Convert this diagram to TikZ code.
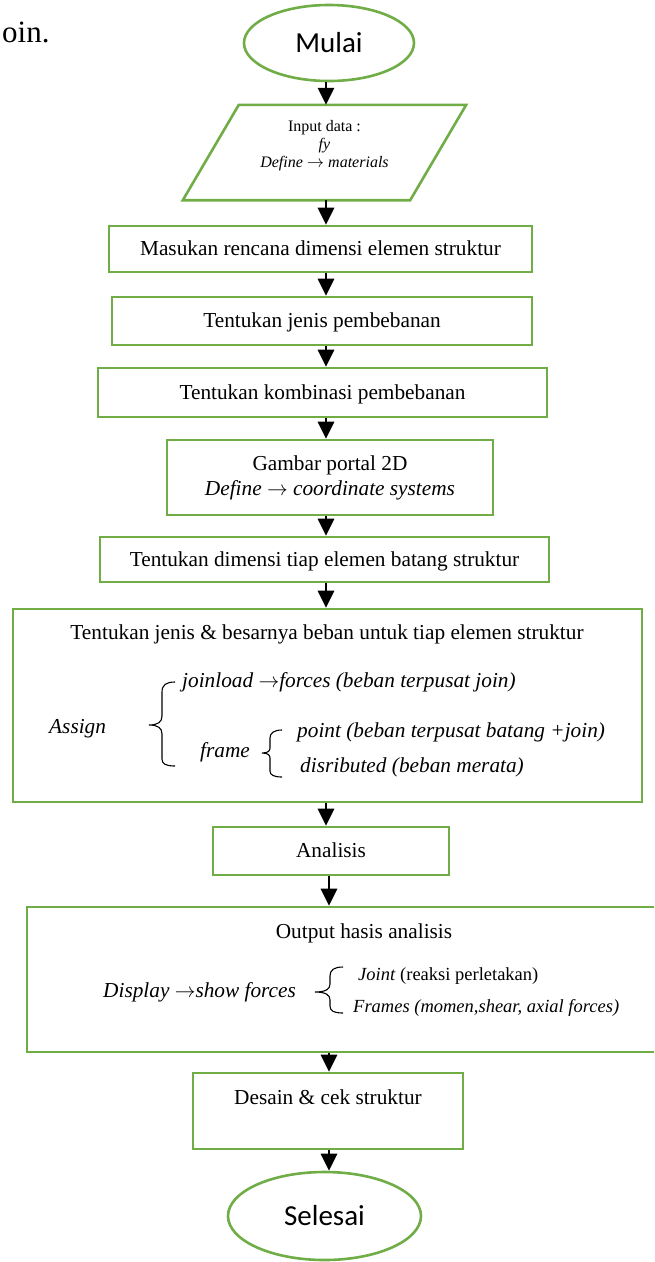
\documentclass[tikz,border=0pt]{standalone}
\usepackage{fontspec}
\setmainfont{Liberation Serif}
\newfontfamily\calibrifont{Carlito}
\usetikzlibrary{arrows.meta,shapes.geometric}
\definecolor{boxgreen}{RGB}{112,173,71}
\newcommand{\goesto}{\ensuremath{\rightarrow}}
\tikzset{
  stepbox/.style={draw=boxgreen, line width=2.6pt, inner sep=0pt, fill=white,
                  font=\fontsize{21.3}{25}\selectfont},
  oneline/.style={text height=15pt, text depth=2pt},
  terminal/.style={ellipse, draw=boxgreen, line width=2.6pt, inner sep=0pt,
                   font=\calibrifont\fontsize{29}{34}\selectfont},
  flowarrow/.style={line width=2.8pt, -{Triangle[width=16pt,length=17pt]}},
  bracket/.style={line width=1.1pt},
  txt/.style={inner sep=0pt, font=\fontsize{21.3}{25}\selectfont},
  smalltxt/.style={inner sep=0pt, font=\fontsize{18.5}{22}\selectfont},
  inputtxt/.style={inner sep=0pt, align=center, font=\fontsize{16}{18}\selectfont},
}
\begin{document}
\begin{tikzpicture}[x=1pt, y=-1pt]
\useasboundingbox (0,0) rectangle (654,1262);
\clip (0,0) rectangle (654,1262);

% tail of the preceding sentence
\node[inner sep=0pt, anchor=base west, font=\fontsize{31}{36}\selectfont] (tail) at (2,42) {oin.};

% vertical axes of the connectors
\coordinate (axis) at (326,0);
\coordinate (axislow) at (329,0);

% start
\node[terminal, minimum width=170, minimum height=76] (start) at (329,43) {Mulai};

% input parallelogram
\node[inner sep=0pt, minimum width=227, minimum height=95] (input) at (324.5,152.5) {};
\draw[draw=boxgreen, line width=2.6pt, line join=miter]
  ([xshift=28pt]input.north west) -- ([xshift=28pt]input.north east)
  -- ([xshift=-28pt]input.south east) -- ([xshift=-28pt]input.south west) -- cycle;
\node[inputtxt, anchor=base] (inputtext) at (324.5,167)
  {Input data :\\ \textit{fy}\\ \textit{Define} \goesto{} \textit{materials}};

% process steps
\node[stepbox, oneline, minimum width=423, minimum height=46] (dim) at (320.5,249)
  {Masukan rencana dimensi elemen struktur};
\node[stepbox, oneline, minimum width=420, minimum height=48] (jenis) at (322,321)
  {Tentukan jenis pembebanan};
\node[stepbox, oneline, minimum width=449, minimum height=49] (komb) at (322.5,392.5)
  {Tentukan kombinasi pembebanan};
\node[stepbox, align=center, minimum width=326, minimum height=75] (portal) at (330,477.5)
  {Gambar portal 2D\\ \textit{Define} \goesto{} \textit{coordinate systems}};
\node[stepbox, oneline, minimum width=449, minimum height=45] (tiap) at (324.5,559.5)
  {Tentukan dimensi tiap elemen batang struktur};

% load assignment block
\node[stepbox, minimum width=629, minimum height=193] (beban) at (327.5,705.5) {};
\node[txt, anchor=base] (bebantitle) at (327,639)
  {Tentukan jenis \& besarnya beban untuk tiap elemen struktur};
\node[txt, anchor=base west] (assign) at (49,733) {\textit{Assign}};
\node[txt, anchor=base west] (joinload) at (182,687)
  {\textit{joinload \goesto{}forces (beban terpusat join)}};
\node[txt, anchor=base west] (frame) at (200,757) {\textit{frame}};
\node[txt, anchor=base west] (point) at (297,737)
  {\textit{point (beban terpusat batang +join)}};
\node[txt, anchor=base west] (dist) at (300,772)
  {\textit{disributed (beban merata)}};
\draw[bracket] (175,682) .. controls (166,682) and (162,685) .. (162,692) -- (162,716)
  .. controls (162,722) and (158,725) .. (149,725)
  .. controls (158,725) and (162,728) .. (162,734) -- (162,759)
  .. controls (162,764) and (166,766) .. (175,766);
\draw[bracket] (282,730) .. controls (274,730) and (270,733) .. (270,738) -- (270,748)
  .. controls (270,751) and (268,753) .. (262,753)
  .. controls (268,753) and (270,755) .. (270,758) -- (270,771)
  .. controls (270,775) and (274,777) .. (282,777);

% analysis
\node[stepbox, oneline, minimum width=236, minimum height=48] (analisis) at (331,851) {Analisis};

% output block
\node[stepbox, minimum width=674, minimum height=145] (output) at (364,979.5) {};
\node[txt, anchor=base] (outtitle) at (364,938) {Output hasis analisis};
\node[txt, anchor=base west] (display) at (103,997) {\textit{Display \goesto{}show forces}};
\node[smalltxt, anchor=base west] (joint) at (358,980) {\textit{Joint} (reaksi perletakan)};
\node[smalltxt, anchor=base west] (frames) at (353,1012)
  {\textit{Frames (momen,shear, axial forces)}};
\draw[bracket] (343,967) .. controls (334,967) and (330,970) .. (330,976) -- (330,984)
  .. controls (330,989) and (326,992) .. (315,992)
  .. controls (326,992) and (330,995) .. (330,1000) -- (330,1006)
  .. controls (330,1011) and (334,1013) .. (343,1013);

% design check
\node[stepbox, minimum width=270, minimum height=76] (desain) at (328,1111) {};
\node[txt, anchor=base] (desaintext) at (328,1104) {Desain \& cek struktur};

% end
\node[terminal, minimum width=193, minimum height=88] (finish) at (324.5,1216) {Selesai};

% connectors
\draw[flowarrow] (start.south -| axis) -- (input.north -| axis);
\draw[flowarrow] (input.south -| axis) -- (dim.north -| axis);
\draw[flowarrow] (dim.south -| axis) -- (jenis.north -| axis);
\draw[flowarrow] (jenis.south -| axis) -- (komb.north -| axis);
\draw[flowarrow] (komb.south -| axis) -- (portal.north -| axis);
\draw[flowarrow] (portal.south -| axis) -- (tiap.north -| axis);
\draw[flowarrow] (tiap.south -| axis) -- (beban.north -| axis);
\draw[flowarrow] (beban.south -| axis) -- (analisis.north -| axis);
\draw[flowarrow] (analisis.south -| axislow) -- (output.north -| axislow);
\draw[flowarrow] (output.south -| axislow) -- (desain.north -| axislow);
\draw[flowarrow] (desain.south -| axislow) -- (finish.north -| axislow);
\end{tikzpicture}
\end{document}
